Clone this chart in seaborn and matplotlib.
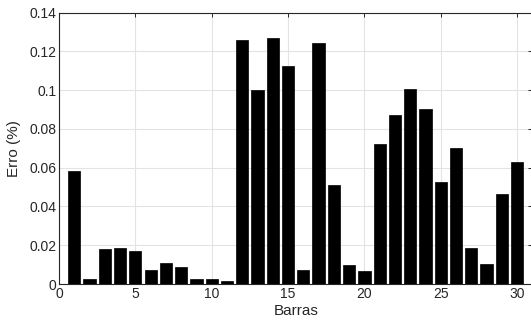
import matplotlib
matplotlib.use('Agg')
import matplotlib.pyplot as plt
from matplotlib.ticker import FuncFormatter
import seaborn as sns
import numpy as np
import pandas as pd

# bar index and error values (%)
barras = list(range(1, 31))
erro = [0.0585, 0.0024, 0.0182, 0.0186, 0.0170, 0.0074, 0.0110, 0.0086, 0.0024, 0.0024,
        0.0015, 0.1257, 0.1003, 0.1268, 0.1125, 0.0074, 0.1242, 0.0512, 0.0098, 0.0067,
        0.0722, 0.0872, 0.1005, 0.0903, 0.0526, 0.0702, 0.0187, 0.0105, 0.0464, 0.0628]
xticks = [0, 5, 10, 15, 20, 25, 30]
yticks = [0, 0.02, 0.04, 0.06, 0.08, 0.1, 0.12, 0.14]

df = pd.DataFrame({'Barras': barras, 'Erro': erro})

sns.set_style('white')
plt.rcParams['font.family'] = ['Liberation Sans', 'DejaVu Sans']
axcol = '#262626'

fig = plt.figure(figsize=(5.31, 3.26), dpi=100)
ax = fig.add_axes([59 / 531, 42 / 326, 473.4 / 531, 271.3 / 326])

sns.barplot(data=df, x='Barras', y='Erro', native_scale=True, width=0.8,
            color='black', saturation=1, edgecolor='black', linewidth=0.5, ax=ax, zorder=3)

ax.set_xlim(0, 31)
ax.set_ylim(0, 0.14)
ax.set_xticks(xticks)
ax.set_yticks(yticks)
ax.yaxis.set_major_formatter(FuncFormatter(lambda v, p: f'{v:g}'))
ax.grid(True, color='#e3e3e3', linewidth=0.8, zorder=0)
ax.set_axisbelow(True)

ax.tick_params(direction='in', length=3, width=0.7, colors=axcol, labelsize=10,
               top=True, right=True, pad=2)
for s in ax.spines.values():
    s.set_color(axcol)
    s.set_linewidth(0.8)

ax.set_xlabel('Barras', fontsize=11, color=axcol, labelpad=2)
ax.set_ylabel('Erro (%)', fontsize=11, color=axcol, labelpad=6)

fig.savefig('out.png', dpi=100)
